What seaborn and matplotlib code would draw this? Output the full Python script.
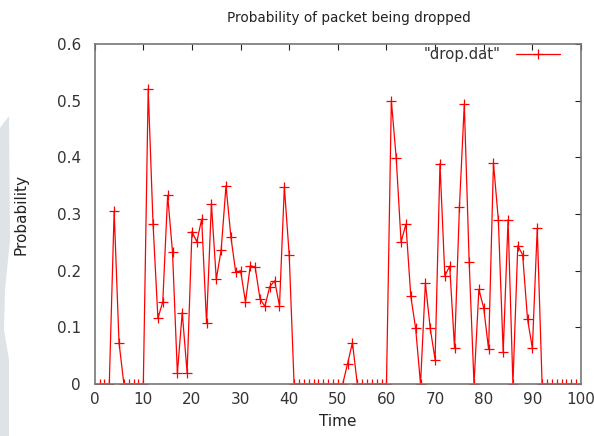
import numpy as np
import pandas as pd
import matplotlib
matplotlib.use("Agg")
import matplotlib.pyplot as plt
from matplotlib.patches import Polygon
import seaborn as sns

# drop.dat values, time 1..99
time = list(range(1, 100))
prob = [0, 0, 0, 0.305, 0.073, 0, 0, 0, 0, 0,
        0.521, 0.282, 0.116, 0.145, 0.333, 0.233, 0.019, 0.126, 0.020, 0.269,
        0.251, 0.291, 0.107, 0.318, 0.185, 0.236, 0.350, 0.260, 0.197, 0.200,
        0.145, 0.209, 0.206, 0.150, 0.137, 0.172, 0.182, 0.138, 0.348, 0.227,
        0, 0, 0, 0, 0, 0, 0, 0, 0, 0,
        0, 0.036, 0.073, 0, 0, 0, 0, 0, 0, 0,
        0.500, 0.399, 0.251, 0.282, 0.155, 0.098, 0, 0.178, 0.098, 0.043,
        0.389, 0.191, 0.208, 0.063, 0.312, 0.494, 0.216, 0, 0.167, 0.134,
        0.061, 0.390, 0.290, 0.056, 0.290, 0, 0.244, 0.228, 0.115, 0.063,
        0.275, 0, 0, 0, 0, 0, 0, 0, 0]
df = pd.DataFrame({"Time": time, "Probability": prob})

sns.set_theme(style="white")
plt.rcParams['font.family'] = ['DejaVu Sans']

W, H = 594, 436
fig = plt.figure(figsize=(W / 100, H / 100), dpi=100)
ax = fig.add_axes([94.7 / W, 1 - 384 / H, (581 - 94.7) / W, (384 - 44) / H])

# faint shape at the left edge of the picture
pts = [(0, 128), (9, 116), (10, 240), (5, 290), (4, 330), (9, 360), (9, 436), (0, 436)]
fig.patches.append(Polygon([(x / W, 1 - y / H) for x, y in pts], closed=True,
                           transform=fig.transFigure, facecolor="#dde3e7",
                           edgecolor="none", zorder=0))

sns.lineplot(data=df, x="Time", y="Probability", ax=ax, color="red", lw=0.9,
             marker="+", markersize=7, markeredgewidth=0.9,
             markeredgecolor="red", label='"drop.dat"')

ax.set_xlim(0, 100)
ax.set_ylim(0, 0.6)
ax.set_xticks(range(0, 101, 10))
ax.set_yticks(np.arange(0, 0.61, 0.1))
ax.set_yticklabels(["0", "0.1", "0.2", "0.3", "0.4", "0.5", "0.6"])
ax.tick_params(direction="in", length=4, width=0.8, color="#222222",
               top=True, right=True, labelsize=11, labelcolor="#333333")
ax.tick_params(axis="y", pad=10)
ax.tick_params(axis="x", pad=6)
for s in ax.spines.values():
    s.set_color("#777777")
    s.set_linewidth(1.2)

ax.set_title("Probability of packet being dropped", fontsize=9.8, color="#222222",
             pad=16, x=0.522)
ax.set_xlabel("Time", fontsize=11, color="#222222", labelpad=5)
ax.set_ylabel("Probability", fontsize=11, color="#222222", labelpad=20)

leg = ax.legend(loc="center right", bbox_to_anchor=(0.957, 0.968), frameon=False,
                fontsize=10.7, handlelength=3.0, markerfirst=False,
                borderpad=0, borderaxespad=0, handletextpad=1.0)
for t in leg.get_texts():
    t.set_color("#333333")

fig.savefig("out.png", dpi=100)
